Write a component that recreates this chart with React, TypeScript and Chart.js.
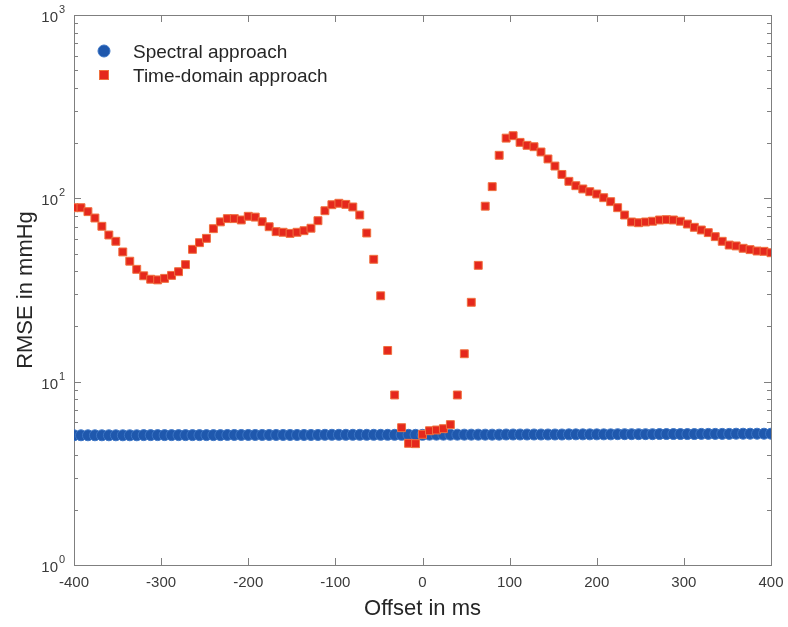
import React, { useEffect, useRef } from "react";
import { Chart, registerables } from "chart.js";

Chart.register(...registerables);

const offsets = [
  -400, -392, -384, -376, -368, -360, -352, -344, -336, -328,
  -320, -312, -304, -296, -288, -280, -272, -264, -256, -248,
  -240, -232, -224, -216, -208, -200, -192, -184, -176, -168,
  -160, -152, -144, -136, -128, -120, -112, -104, -96, -88,
  -80, -72, -64, -56, -48, -40, -32, -24, -16, -8,
  0, 8, 16, 24, 32, 40, 48, 56, 64, 72,
  80, 88, 96, 104, 112, 120, 128, 136, 144, 152,
  160, 168, 176, 184, 192, 200, 208, 216, 224, 232,
  240, 248, 256, 264, 272, 280, 288, 296, 304, 312,
  320, 328, 336, 344, 352, 360, 368, 376, 384, 392,
  400,
];

const spectral = [
  5.10, 5.10, 5.10, 5.10, 5.10, 5.10, 5.10, 5.10, 5.10, 5.10,
  5.11, 5.11, 5.11, 5.11, 5.11, 5.11, 5.11, 5.11, 5.11, 5.11,
  5.11, 5.11, 5.12, 5.12, 5.12, 5.12, 5.12, 5.12, 5.12, 5.12,
  5.12, 5.12, 5.12, 5.12, 5.12, 5.12, 5.13, 5.13, 5.13, 5.13,
  5.13, 5.13, 5.13, 5.13, 5.13, 5.13, 5.13, 5.13, 5.13, 5.13,
  5.13, 5.14, 5.14, 5.14, 5.14, 5.14, 5.14, 5.14, 5.14, 5.14,
  5.14, 5.14, 5.15, 5.15, 5.15, 5.15, 5.15, 5.15, 5.15, 5.15,
  5.15, 5.16, 5.16, 5.16, 5.16, 5.16, 5.16, 5.16, 5.17, 5.17,
  5.17, 5.17, 5.17, 5.17, 5.18, 5.18, 5.18, 5.18, 5.18, 5.18,
  5.19, 5.19, 5.19, 5.19, 5.19, 5.20, 5.20, 5.20, 5.20, 5.20,
  5.20,
];

const timeDomain = [
  88.9, 88.9, 84.6, 78.1, 70.4, 63.1, 58.3, 51.0, 45.4, 41.0,
  37.8, 36.2, 35.9, 36.6, 38.0, 39.8, 43.5, 52.7, 57.3, 60.5,
  68.3, 74.4, 77.5, 77.5, 76.2, 79.8, 79.0, 74.6, 70.0, 65.8,
  65.3, 64.4, 65.3, 66.6, 68.7, 75.5, 85.6, 92.3, 94.0, 92.7,
  89.7, 81.1, 64.7, 46.5, 29.4, 14.8, 8.46, 5.61, 4.61, 4.59,
  5.16, 5.40, 5.45, 5.54, 5.83, 8.46, 14.2, 27.1, 43.1, 90.6,
  115.8, 171.7, 213, 219.6, 202, 194.6, 191.2, 179, 164, 150,
  135, 123.8, 117.2, 112.5, 108.7, 105.6, 100.8, 95.9, 88.9, 81.1,
  74.3, 73.6, 74.3, 75.0, 76.2, 76.5, 76.2, 75.0, 72.4, 69.5,
  67.2, 65.0, 61.8, 58.3, 55.6, 55.0, 53.4, 52.5, 51.6, 51.4,
  50.5,
];

const xTickValues = [-400, -300, -200, -100, 0, 100, 200, 300, 400];
const yDecades = [1, 10, 100, 1000];
const yExponents = ["0", "1", "2", "3"];
const seriesNames = ["Spectral approach", "Time-domain approach"];
const xTitle = "Offset in ms";
const yTitle = "RMSE in mmHg";

const FONT = '"Liberation Sans", Arial, Helvetica, sans-serif';
const AXIS = "#7f7f7f";
const TICK_TEXT = "#3a3a3a";
const TITLE_TEXT = "#262626";
const BLUE_FILL = "#1f58ad";
const BLUE_EDGE = "#3b74c4";
const RED_FILL = "#e5281c";
const RED_EDGE = "#f0703f";

const framePlugin = {
  id: "matlabFrame",
  beforeDatasetsDraw(chart: any) {
    const { ctx, chartArea, scales } = chart;
    const { left, right, top, bottom } = chartArea;
    const x = scales.x;
    const y = scales.y;
    ctx.save();
    ctx.strokeStyle = AXIS;
    ctx.lineWidth = 1;
    ctx.strokeRect(Math.round(left) + 0.5, Math.round(top) + 0.5, Math.round(right - left), Math.round(bottom - top));
    ctx.beginPath();
    for (const v of xTickValues) {
      const px = Math.round(x.getPixelForValue(v)) + 0.5;
      ctx.moveTo(px, bottom);
      ctx.lineTo(px, bottom - 7);
      ctx.moveTo(px, top);
      ctx.lineTo(px, top + 7);
    }
    for (let d = 0; d < yDecades.length; d++) {
      const base = yDecades[d];
      const maxM = d === yDecades.length - 1 ? 1 : 9;
      for (let m = 1; m <= maxM; m++) {
        const py = Math.round(y.getPixelForValue(base * m)) + 0.5;
        const len = m === 1 ? 7 : 4;
        ctx.moveTo(left, py);
        ctx.lineTo(left + len, py);
        ctx.moveTo(right, py);
        ctx.lineTo(right - len, py);
      }
    }
    ctx.stroke();
    ctx.restore();
  },
  afterDraw(chart: any) {
    const { ctx, chartArea, scales } = chart;
    const { left } = chartArea;
    const y = scales.y;
    ctx.save();
    ctx.fillStyle = TICK_TEXT;
    for (let d = 0; d < yDecades.length; d++) {
      const py = y.getPixelForValue(yDecades[d]);
      ctx.font = `15px ${FONT}`;
      ctx.textAlign = "right";
      ctx.textBaseline = "middle";
      ctx.fillText("10", left - 16, py + 3);
      ctx.font = `11px ${FONT}`;
      ctx.textAlign = "left";
      ctx.fillText(yExponents[d], left - 15, py - 5);
    }
    const lx = 104;
    const ly = [51, 75];
    ctx.beginPath();
    ctx.arc(lx, ly[0], 6, 0, Math.PI * 2);
    ctx.fillStyle = BLUE_FILL;
    ctx.fill();
    ctx.strokeStyle = BLUE_EDGE;
    ctx.lineWidth = 1;
    ctx.stroke();
    ctx.fillStyle = RED_FILL;
    ctx.fillRect(lx - 4.5, ly[1] - 4.5, 9, 9);
    ctx.strokeStyle = RED_EDGE;
    ctx.strokeRect(lx - 4.5, ly[1] - 4.5, 9, 9);
    ctx.fillStyle = TITLE_TEXT;
    ctx.font = `19px ${FONT}`;
    ctx.textAlign = "left";
    ctx.textBaseline = "alphabetic";
    ctx.fillText(seriesNames[0], 133, ly[0] + 7);
    ctx.fillText(seriesNames[1], 133, ly[1] + 7);
    ctx.restore();
  },
};

export default function App() {
  const canvasRef = useRef<HTMLCanvasElement | null>(null);

  useEffect(() => {
    const canvas = canvasRef.current;
    if (!canvas) return;
    const chart = new Chart(canvas, {
      type: "scatter",
      data: {
        datasets: [
          {
            label: seriesNames[1],
            data: offsets.map((o, i) => ({ x: o, y: timeDomain[i] })),
            pointStyle: "rect",
            pointRadius: 5.6,
            pointHoverRadius: 5.6,
            backgroundColor: RED_FILL,
            borderColor: RED_EDGE,
            borderWidth: 1,
            order: 1,
          },
          {
            label: seriesNames[0],
            data: offsets.map((o, i) => ({ x: o, y: spectral[i] })),
            pointStyle: "circle",
            pointRadius: 5.5,
            pointHoverRadius: 5.5,
            backgroundColor: BLUE_FILL,
            borderColor: BLUE_EDGE,
            borderWidth: 1,
            order: 2,
          },
        ],
      },
      options: {
        responsive: false,
        animation: false,
        devicePixelRatio: 1,
        layout: { padding: { top: 15, right: 17, left: 0, bottom: 0 } },
        plugins: {
          legend: { display: false },
          tooltip: { enabled: false },
        },
        scales: {
          x: {
            type: "linear",
            min: -400,
            max: 400,
            border: { display: false },
            grid: { display: false, drawTicks: false },
            afterBuildTicks: (scale: any) => {
              scale.ticks = xTickValues.map((v) => ({ value: v }));
            },
            ticks: {
              padding: 9,
              color: TICK_TEXT,
              font: { family: FONT, size: 15 },
              maxRotation: 0,
              autoSkip: false,
              callback: (v: any) => String(v),
            },
            title: {
              display: true,
              text: xTitle,
              color: TITLE_TEXT,
              font: { family: FONT, size: 22 },
              padding: { top: 0, bottom: 5 },
            },
            afterFit: (scale: any) => {
              scale.height = 62;
              scale.paddingLeft = 0;
              scale.paddingRight = 0;
            },
          },
          y: {
            type: "logarithmic",
            min: 1,
            max: 1000,
            border: { display: false },
            grid: { display: false, drawTicks: false },
            ticks: { display: false },
            title: {
              display: true,
              text: yTitle,
              color: TITLE_TEXT,
              font: { family: FONT, size: 22 },
              padding: { top: 13, bottom: 0 },
            },
            afterFit: (scale: any) => {
              scale.width = 74;
              scale.paddingTop = 0;
              scale.paddingBottom = 0;
            },
          },
        },
      },
      plugins: [framePlugin],
    });
    return () => chart.destroy();
  }, []);

  return (
    <div style={{ position: "fixed", left: 0, top: 0, width: 788, height: 627, background: "#fff" }}>
      <canvas ref={canvasRef} width={788} height={627} style={{ width: 788, height: 627, display: "block" }} />
    </div>
  );
}
